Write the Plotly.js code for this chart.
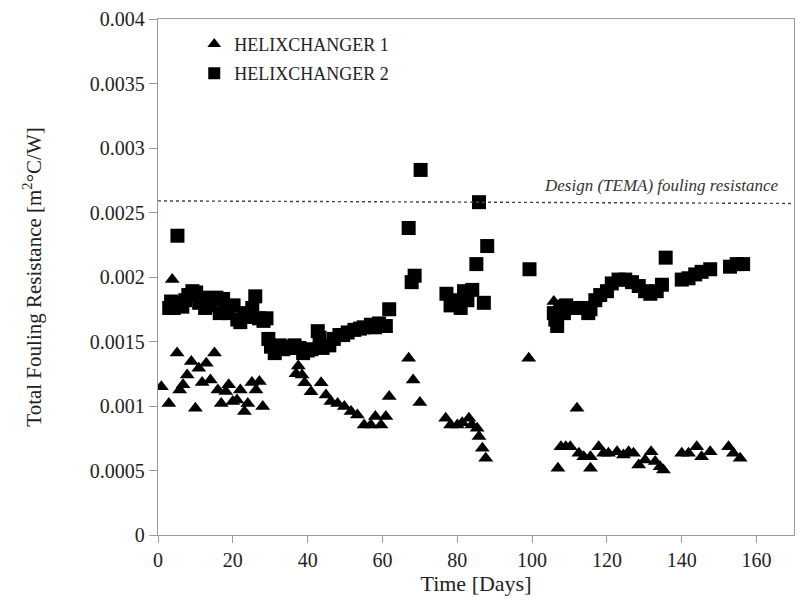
<!DOCTYPE html>
<html>
<head>
<meta charset="utf-8">
<script src="https://cdn.plot.ly/plotly-3.0.1.min.js"></script>
<style>html,body{margin:0;padding:0;background:#fff;}#chart{width:801px;height:607px;}</style>
</head>
<body>
<div id="chart"></div>
<script>
// HELIXCHANGER 1 (triangles)
const hx1Days = [0.9, 2.9, 3.8, 5.1, 5.8, 6.7, 7.8, 8.9, 10.0, 10.9, 11.8, 12.9, 14.0, 15.1, 16.0, 16.9, 18.1, 18.9, 20.0, 21.1, 22.0, 23.1, 24.0, 25.1, 26.2, 27.1, 28.0,
  36.9, 37.5, 38.5, 39.2, 40.9, 43.6, 44.9, 46.2, 48.0, 49.8, 51.6, 53.3, 55.1, 56.9, 58.1, 59.6, 60.9, 61.8,
  67.0, 68.2, 70.0, 76.9, 78.2, 80.0, 81.3, 83.1, 83.9, 85.3, 85.8, 86.7, 87.6,
  99.1, 105.8, 106.9, 107.7, 109.0, 110.2, 112.0, 112.5, 113.8, 115.6, 115.6, 117.8, 119.1, 120.4, 122.7, 124.4, 125.8, 127.1, 128.5, 130.2, 131.8, 132.9, 134.2, 135.1,
  140.0, 141.8, 144.0, 145.3, 147.6, 152.5, 153.8, 155.6];
const hx1Values = [0.00115, 0.00102, 0.00198, 0.00141, 0.001125, 0.001164, 0.00124, 0.001345, 0.000983, 0.001293, 0.001182, 0.001332, 0.001202, 0.00141, 0.001125, 0.00102, 0.001112, 0.001164, 0.001034, 0.001047, 0.001125, 0.000957, 0.00102, 0.001182, 0.001125, 0.001189, 0.000996,
  0.00125, 0.00131, 0.00124, 0.00118, 0.00111, 0.00118, 0.001086, 0.001034, 0.00102, 0.000996, 0.000957, 0.00093, 0.000853, 0.000853, 0.000918, 0.000853, 0.000918, 0.001073,
  0.00137, 0.001202, 0.001027, 0.000905, 0.000853, 0.000853, 0.00087, 0.000905, 0.000853, 0.000828, 0.000763, 0.000673, 0.000595,
  0.00137, 0.00181, 0.000517, 0.000685, 0.000685, 0.000685, 0.000983, 0.000634, 0.000607, 0.000517, 0.000607, 0.000685, 0.000634, 0.000634, 0.000646, 0.00062, 0.000646, 0.000634, 0.000543, 0.000582, 0.000646, 0.000569, 0.00053, 0.000504,
  0.000634, 0.000634, 0.000685, 0.000607, 0.000646, 0.000685, 0.000634, 0.000595];

// HELIXCHANGER 2 (squares)
const hx2Days = [3.0, 3.5, 4.2, 5.2, 5.5, 6.5, 7.3, 8.1, 9.2, 10.2, 11.0, 12.0, 12.6, 13.8, 14.6, 15.6, 16.5, 17.4, 18.0, 19.0, 20.2, 21.2, 22.0, 23.0, 24.2, 25.2, 26.0, 27.0, 28.2, 29.0,
  29.5, 30.2, 31.2, 32.5, 33.5, 34.6, 35.6, 36.5, 37.8, 38.8, 40.0, 41.0, 42.7, 43.2, 44.0, 45.8, 47.0, 48.5, 49.5, 50.7, 52.5, 54.0, 55.0, 56.9, 58.0, 59.1, 60.9, 61.8,
  67.0, 67.8, 68.6, 70.2,
  77.1, 78.2, 79.5, 80.9, 81.8, 82.7, 84.0, 85.1, 85.8, 87.1, 88.0,
  99.3,
  105.8, 106.2, 106.7, 107.5, 108.5, 109.1, 111.6, 113.8, 115.0, 115.6, 116.9, 118.2, 120.0, 121.3, 123.1, 124.9, 126.7, 128.5, 130.2, 131.6, 133.3, 134.7, 135.7,
  140.0, 141.8, 143.6, 145.3, 147.6, 152.9, 154.7, 156.4];
const hx2Values = [0.00176, 0.00181, 0.00176, 0.00232, 0.0018, 0.00177, 0.00182, 0.00186, 0.00189, 0.00188, 0.0018, 0.00184, 0.00176, 0.00178, 0.00183, 0.00184, 0.00172, 0.00183, 0.00176, 0.00172, 0.00178, 0.00167, 0.00165, 0.00172, 0.00169, 0.00176, 0.00185, 0.00168, 0.00166, 0.00168,
  0.00152, 0.00146, 0.00141, 0.00147, 0.00144, 0.00145, 0.00146, 0.00147, 0.00145, 0.00141, 0.00143, 0.00144, 0.00158, 0.00153, 0.00145, 0.00147, 0.00152, 0.00155, 0.00155, 0.00157, 0.00159, 0.0016, 0.00161, 0.00163, 0.00161, 0.00164, 0.00162, 0.00175,
  0.00238, 0.00196, 0.00201, 0.00283,
  0.00187, 0.00178, 0.00182, 0.00176, 0.00189, 0.00182, 0.0019, 0.0021, 0.00258, 0.0018, 0.00224,
  0.00206,
  0.00172, 0.00167, 0.00162, 0.00177, 0.00172, 0.00178, 0.00176, 0.00176, 0.00172, 0.00175, 0.00182, 0.00186, 0.00189, 0.00195, 0.00198, 0.00198, 0.00196, 0.00193, 0.00189, 0.00187, 0.00189, 0.00194, 0.00215,
  0.00198, 0.00199, 0.00202, 0.00204, 0.00206, 0.00208, 0.0021, 0.0021];

// Design (TEMA) fouling resistance reference line
const designDays = [0, 170];
const designValues = [0.00259, 0.00257];
const designLabel = "Design (TEMA) fouling resistance";

const seriesNames = ["HELIXCHANGER 1", "HELIXCHANGER 2"];
const xTickVals = [0, 20, 40, 60, 80, 100, 120, 140, 160];
const yTickVals = [0, 0.0005, 0.001, 0.0015, 0.002, 0.0025, 0.003, 0.0035, 0.004];
const yTickText = ["0", "0.0005", "0.001", "0.0015", "0.002", "0.0025", "0.003", "0.0035", "0.004"];

const serif = "'Liberation Serif', 'Times New Roman', serif";
const axisColor = "#9a9a9a";

const traces = [
  {x: hx1Days, y: hx1Values, type: "scatter", mode: "markers", name: seriesNames[0], legendgroup: "g1",
   marker: {symbol: "triangle-up", size: 13, color: "#000"}},
  {x: hx2Days, y: hx2Values, type: "scatter", mode: "markers", name: seriesNames[1], legendgroup: "g2",
   marker: {symbol: "square", size: 14, color: "#000"}},
  {x: designDays, y: designValues, type: "scatter", mode: "lines", showlegend: false, hoverinfo: "skip",
   line: {color: "#444", width: 1.4, dash: "3px,3px"}}
];

const layout = {
  width: 801, height: 607,
  margin: {l: 158, r: 7, t: 19, b: 72},
  paper_bgcolor: "#fff", plot_bgcolor: "#fff",
  font: {family: serif, color: "#222", size: 19},
  showlegend: true,
  legend: {x: 0.057, y: 0.987, xanchor: "left", yanchor: "top", bgcolor: "rgba(0,0,0,0)",
           font: {family: serif, size: 18, color: "#222"}, tracegroupgap: 3, traceorder: "grouped",
           itemwidth: 30, itemsizing: "constant"},
  xaxis: {range: [0, 170], tickvals: xTickVals, ticks: "outside", ticklen: 7, tickcolor: axisColor,
          showline: true, linecolor: axisColor, linewidth: 1.3, mirror: true, showgrid: false, zeroline: false,
          tickfont: {family: serif, size: 20, color: "#222"},
          title: {text: "Time [Days]", font: {family: serif, size: 22, color: "#222"}, standoff: 0}},
  yaxis: {range: [0, 0.004], tickvals: yTickVals, ticktext: yTickText, ticks: "outside", ticklen: 8, tickcolor: axisColor,
          showline: true, linecolor: axisColor, linewidth: 1.3, mirror: true, showgrid: false, zeroline: false,
          tickfont: {family: serif, size: 20, color: "#222"},
          title: {text: "Total Fouling Resistance [m<sup>2</sup>°C/W]", font: {family: serif, size: 21, color: "#222"}, standoff: 42}},
  annotations: [
    {x: 166.5, y: designValues[1], xref: "x", yref: "y", text: designLabel, showarrow: false,
     xanchor: "right", yanchor: "bottom", yshift: 6,
     font: {family: serif, size: 17, color: "#333", style: "italic"}}
  ]
};

Plotly.newPlot("chart", traces, layout, {displayModeBar: false, staticPlot: true});
</script>
</body>
</html>
